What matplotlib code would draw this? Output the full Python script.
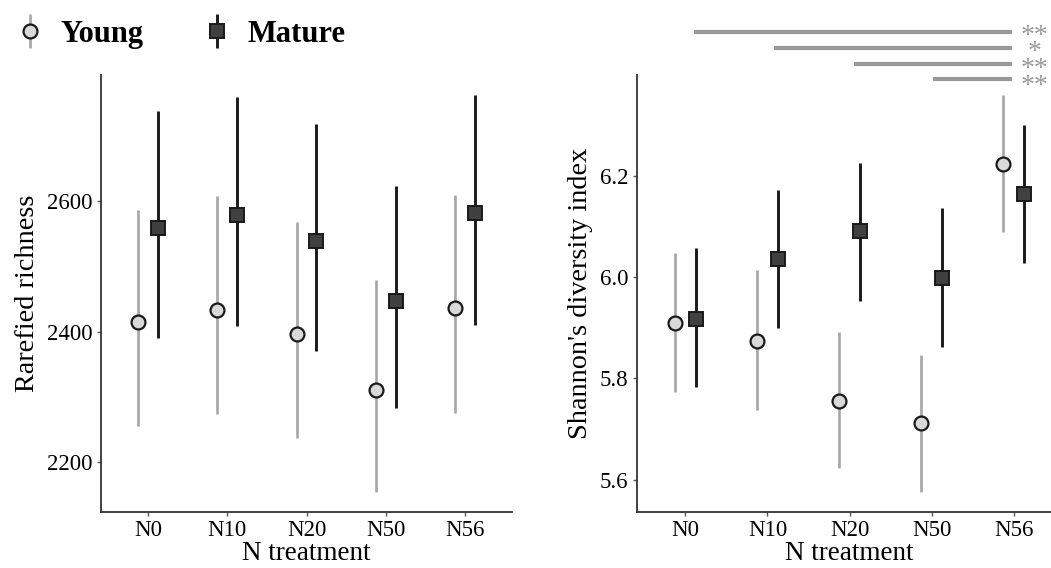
import matplotlib
matplotlib.use("Agg")
import matplotlib.pyplot as plt
from matplotlib.lines import Line2D
from matplotlib.legend_handler import HandlerTuple
import numpy as np

plt.rcParams['font.family'] = ['Liberation Serif', 'DejaVu Serif']

categories = ["N0", "N10", "N20", "N50", "N56"]

# Rarefied richness
rich_young = [2415, 2433, 2396, 2311, 2436]
rich_young_lo = [2256, 2274, 2238, 2154, 2276]
rich_young_hi = [2587, 2608, 2568, 2479, 2610]
rich_mature = [2559, 2579, 2539, 2447, 2582]
rich_mature_lo = [2390, 2409, 2371, 2283, 2411]
rich_mature_hi = [2738, 2759, 2718, 2623, 2763]

# Shannon diversity
shan_young = [5.910, 5.874, 5.755, 5.712, 6.223]
shan_young_lo = [5.773, 5.737, 5.622, 5.576, 6.088]
shan_young_hi = [6.047, 6.013, 5.892, 5.846, 6.360]
shan_mature = [5.918, 6.036, 6.090, 5.999, 6.164]
shan_mature_lo = [5.782, 5.900, 5.953, 5.861, 6.027]
shan_mature_hi = [6.057, 6.172, 6.226, 6.137, 6.301]

# Significance annotations (right panel): start, end (category positions), y, label
sig_start = [0.11, 1.085, 2.06, 3.02]
sig_end = [3.98, 3.98, 3.98, 3.98]
sig_y = [6.484, 6.453, 6.420, 6.391]
sig_labels = ["**", "*", "**", "**"]

young_face = "#d9d9d9"
young_line = "#a6a6a6"
mature_face = "#404040"
mature_line = "#1a1a1a"
dodge = 0.125
MS = 10

fig = plt.figure(figsize=(10.51, 5.68), dpi=100)
ax1 = fig.add_axes([0.0961, 0.0986, 0.3911, 0.7694])
ax2 = fig.add_axes([0.6058, 0.0986, 0.405, 0.7694])

def panel(ax, y, ylo, yhi, m, mlo, mhi):
    x = np.arange(len(categories))
    xy = x - dodge
    xm = x + dodge
    ax.vlines(xy, ylo, yhi, color=young_line, lw=1.9, zorder=2)
    ax.plot(xy, y, 'o', ms=MS, mfc=young_face, mec="#1a1a1a", mew=1.6, ls='none', zorder=3)
    ax.vlines(xm, mlo, mhi, color=mature_line, lw=2.1, zorder=2)
    ax.plot(xm, m, 's', ms=MS, mfc=mature_face, mec="#1a1a1a", mew=1.4, ls='none', zorder=3)
    ax.set_xticks(x)
    ax.set_xticklabels(categories)
    ax.set_xlim(-0.593, 4.593)
    for s in ['top', 'right']:
        ax.spines[s].set_visible(False)
    for s in ['left', 'bottom']:
        ax.spines[s].set_color("#333333")
        ax.spines[s].set_linewidth(1.3)
    ax.tick_params(axis='both', length=3, width=1, color="#555555", labelsize=16.5, pad=3)
    ax.set_xlabel("N treatment", fontsize=19.5, labelpad=0)

panel(ax1, rich_young, rich_young_lo, rich_young_hi, rich_mature, rich_mature_lo, rich_mature_hi)
ax1.set_ylim(2124, 2793)
ax1.set_yticks([2200, 2400, 2600])
ax1.set_ylabel("Rarefied richness", fontsize=20.3, labelpad=5)

panel(ax2, shan_young, shan_young_lo, shan_young_hi, shan_mature, shan_mature_lo, shan_mature_hi)
ax2.set_ylim(5.536, 6.399)
ax2.set_yticks([5.6, 5.8, 6.0, 6.2])
ax2.set_yticklabels(["5.6", "5.8", "6.0", "6.2"])
ax2.set_xlim(-0.593, 4.593)
ax2.set_ylabel("Shannon's diversity index", fontsize=20.3, labelpad=5)

for xs, xe, yy in zip(sig_start, sig_end, sig_y):
    ax2.plot([xs, xe], [yy, yy], color="#999999", lw=3, solid_capstyle='butt', clip_on=False, zorder=4)

# stars as one multi-line text block, first line's asterisks centred on the top bar
STAR_FS = 20
fig.canvas.draw()
px_top = ax2.transData.transform((sig_end[0], sig_y[0]))
px_bot = ax2.transData.transform((sig_end[-1], sig_y[-1]))
step_px = (px_top[1] - px_bot[1]) / (len(sig_y) - 1)
ls = step_px / (STAR_FS * 100 / 72)
star_x = sig_end[0] + 0.27
ax2.annotate("\n".join(sig_labels), xy=(star_x, sig_y[0]), xycoords='data',
             xytext=(0, 0.30 * STAR_FS), textcoords='offset points',
             color="#999999", fontsize=STAR_FS, ha='center', va='top',
             multialignment='center', linespacing=ls, annotation_clip=False)

# Legend
y_bar = Line2D([0], [0], marker='|', ms=24, mew=1.9, color=young_line, ls='none')
y_mk = Line2D([0], [0], marker='o', ms=MS, mfc=young_face, mec="#1a1a1a", mew=1.6, ls='none')
m_bar = Line2D([0], [0], marker='|', ms=24, mew=2.1, color=mature_line, ls='none')
m_mk = Line2D([0], [0], marker='s', ms=MS, mfc=mature_face, mec="#1a1a1a", mew=1.4, ls='none')
leg = fig.legend([(y_bar, y_mk), (m_bar, m_mk)], ["Young", "Mature"], loc='upper left',
                 bbox_to_anchor=(0.0086, 0.986), ncol=2, frameon=False,
                 prop={'size': 22, 'weight': 'bold'},
                 handler_map={tuple: HandlerTuple(ndivide=1)},
                 handlelength=0.6, handletextpad=0.69, columnspacing=2.1,
                 borderaxespad=0)

fig.savefig("out.png", dpi=100)
